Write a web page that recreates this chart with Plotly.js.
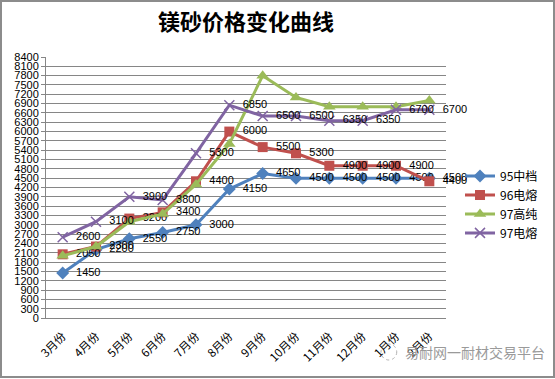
<!DOCTYPE html>
<html>
<head>
<meta charset="utf-8">
<script src="https://cdn.plot.ly/plotly-3.0.1.min.js"></script>
<style>
  html, body { margin: 0; padding: 0; background: #fff; }
  #wrap { position: relative; width: 555px; height: 379px; }
  #chart { position: absolute; left: 0; top: 0; width: 555px; height: 379px; }
  #frame { position: absolute; left: 0; top: 0; width: 551px; height: 374px;
           border: 2px solid #8c8c8c; pointer-events: none; }
</style>
</head>
<body>
<div id="wrap">
  <div id="chart"></div>
  <div id="frame"></div>
</div>
<script>
const months = ["3月份","4月份","5月份","6月份","7月份","8月份","9月份","10月份","11月份","12月份","1月份","2月份"];
const s95mid  = [1450, 2200, 2550, 2750, 3000, 4150, 4650, 4500, 4500, 4500, 4500, 4500];
const s96fused = [2050, 2300, 3200, 3400, 4400, 6000, 5500, 5300, 4900, 4900, 4900, 4400];
const s97pure = [2000, 2300, 3100, 3350, 4300, 5600, 7800, 7100, 6800, 6800, 6800, 7000];
const s97fused = [2600, 3100, 3900, 3800, 5300, 6850, 6500, 6500, 6350, 6350, 6700, 6700];
const names = ["95中档","96电熔","97高纯","97电熔"];
const colors = ["#4F81BD","#C0504D","#9BBB59","#8064A2"];

const labelFont = {family: "Liberation Sans, Arial, sans-serif", size: 11, color: "#000"};
function series(name, ys, color, symbol, msize, showText) {
  return {
    type: "scatter",
    x: months, y: ys, name: name,
    mode: showText ? "lines+markers+text" : "lines+markers",
    text: showText ? ys.map(v => "\u00a0\u00a0" + v) : undefined,
    textposition: "middle right",
    textfont: labelFont,
    cliponaxis: false,
    line: {color: color, width: 3},
    marker: {symbol: symbol, size: msize, color: color,
             line: {color: color, width: symbol === "x-thin" ? 1.5 : 0}}
  };
}
const data = [
  series(names[0], s95mid, colors[0], "diamond", 10, true),
  series(names[1], s96fused, colors[1], "square", 10, true),
  series(names[2], s97pure, colors[2], "triangle-up", 11, false),
  series(names[3], s97fused, colors[3], "x-thin", 10, true)
];

const layout = {
  width: 555, height: 379,
  margin: {l: 46, r: 103, t: 57, b: 61},
  paper_bgcolor: "#fff", plot_bgcolor: "#fff",
  showlegend: true,
  title: {text: "<b>镁砂价格变化曲线</b>", x: 0.5, xref: "paper", xanchor: "center",
          y: 0.94, yref: "container", yanchor: "middle",
          font: {family: "Noto Sans CJK SC, sans-serif", size: 22, color: "#000"}},
  xaxis: {
    type: "category", range: [-0.5, 11.5],
    tickangle: -45, ticks: "", showgrid: false, ticklabelstandoff: 6,
    showline: true, linecolor: "#868686", linewidth: 1,
    tickfont: {family: "Noto Sans CJK SC, Liberation Sans, sans-serif", size: 11.5, color: "#000"},
    zeroline: false
  },
  yaxis: {
    range: [0, 8400], dtick: 300, tick0: 0,
    showgrid: true, gridcolor: "#868686", gridwidth: 1,
    showline: true, linecolor: "#868686", linewidth: 1,
    ticks: "outside", ticklen: 4, tickcolor: "#868686",
    tickfont: {family: "Liberation Sans, Arial, sans-serif", size: 11, color: "#000"},
    zeroline: false
  },
  legend: {
    x: 1.035, xanchor: "left", y: 0.60, yanchor: "top",
    font: {family: "Noto Sans CJK SC, sans-serif", size: 12, color: "#000"},
    bgcolor: "rgba(0,0,0,0)", tracegroupgap: 0, itemwidth: 30
  },
  annotations: [{
    text: "易耐网一耐材交易平台", xref: "paper", yref: "paper",
    x: (408 - 46) / 406, y: (318 - 352) / 261, xanchor: "left", yanchor: "middle",
    showarrow: false,
    font: {family: "Noto Sans CJK SC, sans-serif", size: 14, color: "#9a9a9a"}
  }],
  shapes: [{
    type: "circle", xref: "paper", yref: "paper",
    x0: (386 - 46) / 406, x1: (402 - 46) / 406,
    y0: (318 - 344) / 261, y1: (318 - 360) / 261,
    line: {color: "#b0b0b0", width: 1, dash: "dot"}
  }]
};

Plotly.newPlot("chart", data, layout, {displayModeBar: false, staticPlot: true});
</script>
</body>
</html>
